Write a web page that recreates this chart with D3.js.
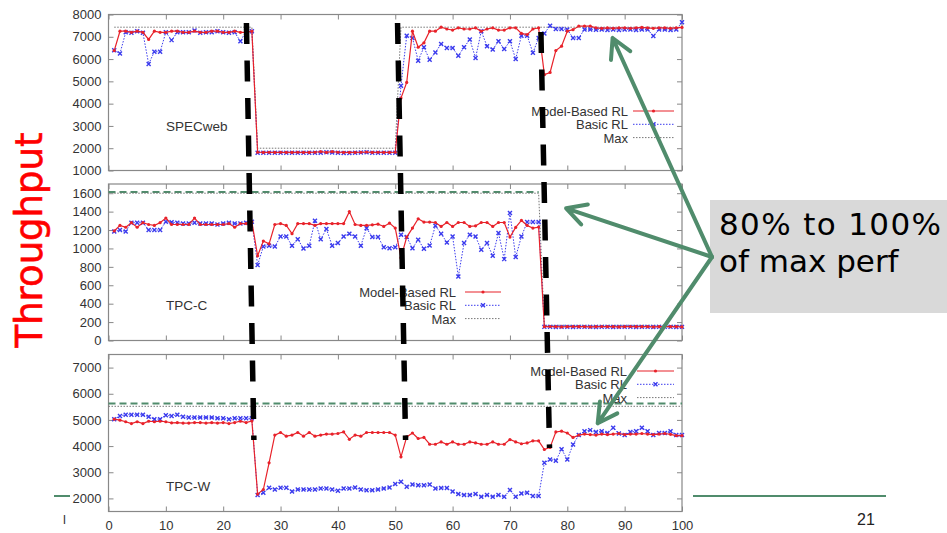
<!DOCTYPE html>
<html>
<head>
<meta charset="utf-8">
<style>
  body { margin: 0; background: #fff; }
  svg { display: block; font-family: "Liberation Sans", Arial, sans-serif; }
  .tick text { fill: #333; font-size: 13px; }
  .tick line { stroke: #888; }
</style>
</head>
<body>
<svg width="947" height="533"></svg>
<script src="https://d3js.org/d3.v7.min.js"></script>
<script>

// ---- data ----
var steps = d3.range(1, 101);   // time steps 1..100
var xTicks = [0, 10, 20, 30, 40, 50, 60, 70, 80, 90, 100];

var specTicks = [1000, 2000, 3000, 4000, 5000, 6000, 7000, 8000];
var specModel = [6380, 7250, 7250, 7200, 7250, 7200, 6880, 7250, 7200, 7200, 7250, 7250, 7200, 7200, 7250, 7200, 7200, 7250, 7250, 7200, 7200, 7250, 7200, 7200, 7250,
  1820, 1810, 1820, 1810, 1820, 1810, 1810, 1820, 1810, 1810, 1820, 1850, 1810, 1850, 1820, 1810, 1810, 1810, 1820, 1830, 1810, 1820, 1810, 1810, 1820,
  4250, 4950, 7250, 6530, 6730, 7250, 7250, 7430, 7350, 7300, 7400, 7350, 7350, 7400, 7250, 7350, 7400, 7300, 7300, 7400, 7400, 7150, 7100, 7350, 7400,
  5300, 5400, 6380, 6580, 7250, 7320, 7480, 7480, 7480, 7400, 7380, 7400, 7380, 7400, 7400, 7380, 7400, 7420, 7400, 7380, 7400, 7400, 7380, 7400, 7420];
var specBasic = [6400, 6250, 7200, 7180, 7250, 7180, 5780, 6330, 6330, 7200, 6850, 7200, 7200, 7200, 7280, 7180, 7200, 7200, 7250, 7200, 7180, 7200, 6800, 7250, 7250,
  1800, 1800, 1800, 1800, 1800, 1800, 1800, 1800, 1800, 1800, 1800, 1800, 1820, 1810, 1800, 1790, 1790, 1800, 1810, 1820, 1800, 1800, 1800, 1800, 1800,
  4800, 7050, 6950, 5930, 6530, 5970, 6300, 6680, 6500, 6500, 6150, 6530, 6880, 6050, 7250, 6580, 6430, 6800, 6450, 6800, 6000, 7050, 7050, 6280, 6950,
  7150, 7500, 7350, 7350, 7330, 6950, 6950, 7330, 7330, 7320, 7330, 7300, 7330, 7300, 7330, 7330, 7300, 7330, 7330, 7030, 7330, 7330, 7300, 7330, 7650];
var specMaxX = [1, 25, 26, 50, 51, 100];
var specMaxY = [7430, 7430, 2000, 2000, 7430, 7430];

var tpccTicks = [0, 200, 400, 600, 800, 1000, 1200, 1400, 1600];
var tpccModel = [1190, 1250, 1230, 1280, 1230, 1280, 1260, 1250, 1280, 1330, 1260, 1260, 1260, 1260, 1330, 1260, 1260, 1260, 1260, 1260, 1270, 1230, 1270, 1270, 1290,
  920, 1080, 1050, 1260, 1270, 1250, 1160, 1270, 1270, 1270, 1250, 1270, 1270, 1270, 1270, 1270, 1400, 1260, 1250, 1250, 1257, 1264, 1239, 1275, 1221,
  900, 1123, 1221, 1322, 1286, 1286, 1282, 1239, 1282, 1239, 1282, 1282, 1239, 1246, 1282, 1282, 1239, 1282, 1282, 1123, 1228, 1304, 1250, 1221, 1232,
  150, 152, 150, 148, 150, 152, 150, 150, 148, 150, 152, 150, 150, 148, 150, 152, 150, 150, 150, 148, 150, 152, 150, 150, 148];
var tpccBasic = [1185, 1200, 1185, 1280, 1280, 1280, 1200, 1200, 1200, 1290, 1285, 1280, 1270, 1270, 1280, 1270, 1270, 1270, 1260, 1270, 1280, 1270, 1270, 1280, 1290,
  820, 1020, 1030, 1020, 1130, 1130, 1030, 1100, 1000, 1030, 1300, 1100, 1210, 1030, 1058, 1130, 1160, 1130, 1030, 1220, 1123, 1123, 1014, 1003, 1014,
  1150, 1123, 1003, 1094, 996, 1033, 1246, 1160, 1065, 1130, 696, 1058, 1149, 1130, 985, 1058, 920, 1167, 884, 1384, 906, 1130, 1286, 1286, 1286,
  148, 148, 146, 148, 148, 146, 148, 148, 148, 146, 148, 148, 146, 148, 148, 148, 146, 148, 148, 146, 148, 148, 148, 146, 148];
var tpccMaxX = [1, 75, 76, 100];
var tpccMaxY = [1600, 1600, 165, 165];
var tpccGreenX = [0, 75];
var tpccGreenY = [1612, 1612];

var tpcwTicks = [2000, 3000, 4000, 5000, 6000, 7000];
var tpcwModel = [5030, 4990, 4930, 4860, 4930, 4860, 4950, 4930, 4950, 4930, 4890, 4900, 4880, 4880, 4900, 4900, 4880, 4900, 4880, 4900, 4860, 4900, 4950, 4900, 4960,
  2165, 2340, 3360, 4420, 4520, 4380, 4420, 4520, 4380, 4520, 4380, 4420, 4460, 4460, 4480, 4540, 4260, 4420, 4380, 4520, 4520, 4520, 4520, 4520, 4420,
  3590, 4350, 4500, 4290, 4330, 4070, 4070, 4160, 4070, 4160, 4070, 4070, 4160, 4120, 4070, 4070, 4160, 4070, 4070, 4250, 4160, 4090, 4120, 4200, 4200,
  3870, 3950, 4540, 4570, 4500, 4330, 4420, 4460, 4440, 4420, 4460, 4440, 4460, 4480, 4440, 4460, 4460, 4480, 4460, 4440, 4460, 4480, 4450, 4400, 4400];
var tpcwBasic = [5030, 5150, 5200, 5200, 5200, 5200, 5120, 5030, 5030, 5180, 5150, 5200, 5120, 5090, 5090, 5090, 5090, 5090, 5060, 5060, 5030, 5060, 5060, 5060, 5060,
  2130, 2220, 2410, 2340, 2410, 2410, 2260, 2340, 2340, 2340, 2340, 2380, 2380, 2340, 2290, 2380, 2380, 2420, 2340, 2310, 2310, 2340, 2380, 2420, 2550,
  2640, 2450, 2530, 2500, 2500, 2530, 2380, 2400, 2400, 2260, 2170, 2130, 2130, 2170, 2060, 2130, 2060, 2130, 2060, 2320, 2060, 2190, 2220, 2090, 2090,
  3360, 3490, 3440, 3880, 3490, 4060, 4420, 4570, 4610, 4540, 4570, 4500, 4700, 4480, 4420, 4540, 4570, 4700, 4570, 4420, 4500, 4500, 4570, 4420, 4420];
var tpcwMaxX = [0, 100];
var tpcwMaxY = [5520, 5520];
var tpcwGreenX = [0, 100];
var tpcwGreenY = [5630, 5630];

var legendNames = ["Model-Based RL", "Basic RL", "Max"];

// ---- layout ----
var svg = d3.select("svg");
var red = "#e8222a", blue = "#3a3aee", gray = "#777", green = "#508c6c";

var x = d3.scaleLinear().domain([0, 100]).range([108.5, 682]);

var panels = [
  {name: "SPECweb", top: 14.5, bottom: 170.5, domain: [1000, 8000], ticks: specTicks,
   model: specModel, basic: specBasic, maxX: specMaxX, maxY: specMaxY,
   label: [166, 131], legend: [628, 116, 633, 674]},
  {name: "TPC-C", top: 184, bottom: 340.5, domain: [0, 1700], ticks: tpccTicks,
   model: tpccModel, basic: tpccBasic, maxX: tpccMaxX, maxY: tpccMaxY, greenX: tpccGreenX, greenY: tpccGreenY,
   label: [166, 310], legend: [456, 297, 465, 501]},
  {name: "TPC-W", top: 354.5, bottom: 511.5, domain: [1500, 7500], ticks: tpcwTicks,
   model: tpcwModel, basic: tpcwBasic, maxX: tpcwMaxX, maxY: tpcwMaxY, greenX: tpcwGreenX, greenY: tpcwGreenY,
   label: [166, 491], legend: [627, 376, 637, 674], xLabels: true}
];

// footer rule of the slide
svg.append("line").attr("x1", 54).attr("x2", 70).attr("y1", 496).attr("y2", 496)
  .attr("stroke", green).attr("stroke-width", 2);
svg.append("line").attr("x1", 693).attr("x2", 886).attr("y1", 496).attr("y2", 496)
  .attr("stroke", green).attr("stroke-width", 2);

function xMark(sel, px, py) {
  sel.append("path")
    .attr("d", "M" + (px - 2) + "," + (py - 2) + "L" + (px + 2) + "," + (py + 2) +
               "M" + (px - 2) + "," + (py + 2) + "L" + (px + 2) + "," + (py - 2))
    .attr("stroke", blue).attr("stroke-width", 1.4);
}

panels.forEach(function(p) {
  var y = d3.scaleLinear().domain(p.domain).range([p.bottom, p.top]);
  p.y = y;
  var g = svg.append("g");

  g.append("rect").attr("x", x.range()[0]).attr("y", p.top)
    .attr("width", x.range()[1] - x.range()[0]).attr("height", p.bottom - p.top)
    .attr("fill", "#fff").attr("stroke", "#888").attr("stroke-width", 1.2);

  g.append("g").attr("transform", "translate(" + x.range()[0] + ",0)")
    .call(d3.axisLeft(y).tickValues(p.ticks).tickSize(-5).tickPadding(7).tickFormat(d3.format("d")))
    .call(function(a) { a.select(".domain").remove(); a.selectAll("text").attr("font-family", null); });
  g.append("g").attr("transform", "translate(" + x.range()[1] + ",0)")
    .call(d3.axisRight(y).tickValues(p.ticks).tickSize(-5).tickFormat(""))
    .call(function(a) { a.select(".domain").remove(); });
  g.append("g").attr("transform", "translate(0," + p.top + ")")
    .call(d3.axisTop(x).tickValues(xTicks).tickSize(-5).tickFormat(""))
    .call(function(a) { a.select(".domain").remove(); });
  g.append("g").attr("transform", "translate(0," + p.bottom + ")")
    .call(d3.axisBottom(x).tickValues(xTicks).tickSize(-5).tickPadding(9.5)
      .tickFormat(p.xLabels ? d3.format("d") : ""))
    .call(function(a) { a.select(".domain").remove(); a.selectAll("text").attr("font-family", null); });

  var line = d3.line().x(function(d) { return x(d[0]); }).y(function(d) { return y(d[1]); });

  if (p.greenX) {
    g.append("path").attr("d", line(d3.zip(p.greenX, p.greenY)))
      .attr("fill", "none").attr("stroke", green).attr("stroke-width", 2).attr("stroke-dasharray", "7,4");
  }
  g.append("path").attr("d", line(d3.zip(p.maxX, p.maxY)))
    .attr("fill", "none").attr("stroke", gray).attr("stroke-width", 1).attr("stroke-dasharray", "1.5,1.5");

  var basicPts = d3.zip(steps, p.basic), modelPts = d3.zip(steps, p.model);
  g.append("path").attr("d", line(basicPts))
    .attr("fill", "none").attr("stroke", blue).attr("stroke-width", 1).attr("stroke-dasharray", "1.5,1.5");
  basicPts.forEach(function(d) { xMark(g, x(d[0]), y(d[1])); });

  g.append("path").attr("d", line(modelPts))
    .attr("fill", "none").attr("stroke", red).attr("stroke-width", 1.2);
  g.selectAll(".pt").data(modelPts).enter().append("circle")
    .attr("cx", function(d) { return x(d[0]); }).attr("cy", function(d) { return y(d[1]); })
    .attr("r", 1.6).attr("fill", red);

  g.append("text").attr("x", p.label[0]).attr("y", p.label[1])
    .attr("font-size", 13.5).attr("fill", "#333").text(p.name);

  // legend
  var L = p.legend;
  legendNames.forEach(function(name, i) {
    var by = L[1] + i * 13.3, ly = by - 5;
    g.append("text").attr("x", L[0]).attr("y", by).attr("text-anchor", "end")
      .attr("font-size", 13).attr("fill", "#333").text(name);
    var s = g.append("line").attr("x1", L[2]).attr("x2", L[3]).attr("y1", ly).attr("y2", ly)
      .attr("fill", "none").attr("stroke-width", i === 0 ? 1.2 : 1);
    if (i === 0) {
      s.attr("stroke", red);
      g.append("circle").attr("cx", (L[2] + L[3]) / 2).attr("cy", ly).attr("r", 1.6).attr("fill", red);
    } else if (i === 1) {
      s.attr("stroke", blue).attr("stroke-dasharray", "1.5,1.5");
      xMark(g, (L[2] + L[3]) / 2, ly);
    } else {
      s.attr("stroke", gray).attr("stroke-dasharray", "1.5,1.5");
    }
  });
});

// thick black dashed phase markers drawn over the panels
var phaseTopX = [24.05, 50.4, 75.4], phaseBotX = [25.35, 51.8, 76.9];
var phaseTopY = [23, 23, 32], phaseBotY = [440, 440, 448];
phaseTopX.forEach(function(v, i) {
  svg.append("line")
    .attr("x1", x(v)).attr("y1", phaseTopY[i]).attr("x2", x(phaseBotX[i])).attr("y2", phaseBotY[i])
    .attr("stroke", "#000").attr("stroke-width", 5.5).attr("stroke-dasharray", "21,16.5");
});

// callout box
svg.append("rect").attr("x", 710).attr("y", 200).attr("width", 240).attr("height", 113).attr("fill", "#d9d9d9");
svg.append("text").attr("x", 719).attr("y", 235).attr("font-family", "DejaVu Sans, Verdana, sans-serif")
  .attr("font-size", 31).attr("fill", "#000")
  .attr("textLength", 222).attr("lengthAdjust", "spacing").text("80% to 100%");
svg.append("text").attr("x", 719).attr("y", 272).attr("font-family", "DejaVu Sans, Verdana, sans-serif")
  .attr("font-size", 31).attr("fill", "#000").text("of max perf");

// green arrows from the box to each panel
var arrowX = [87.9, 79.8, 85.3], arrowY = [6946, 1436, 4871];
var ox = 712, oy = 257;
arrowX.forEach(function(v, i) {
  var tx = x(v), ty = panels[i].y(arrowY[i]);
  var a = Math.atan2(oy - ty, ox - tx), w = 22, s = 0.5;
  svg.append("path")
    .attr("d", "M" + ox + "," + oy + "L" + tx + "," + ty +
      "M" + (tx + w * Math.cos(a - s)) + "," + (ty + w * Math.sin(a - s)) + "L" + tx + "," + ty +
      "L" + (tx + w * Math.cos(a + s)) + "," + (ty + w * Math.sin(a + s)))
    .attr("fill", "none").attr("stroke", green).attr("stroke-width", 4)
    .attr("stroke-linecap", "round").attr("stroke-linejoin", "round");
});

// y title
svg.append("text").attr("transform", "translate(42,240) rotate(-90)")
  .attr("text-anchor", "middle").attr("font-family", "DejaVu Sans, Verdana, sans-serif")
  .attr("font-size", 37).attr("fill", "#ff0000").attr("stroke", "#ff0000").attr("stroke-width", 0.6)
  .text("Throughput");

// slide footer
svg.append("text").attr("x", 63).attr("y", 524).attr("font-size", 13).attr("fill", "#333").text("l");
svg.append("text").attr("x", 857).attr("y", 525).attr("font-size", 16).attr("fill", "#222").text("21");

</script>
</body>
</html>
